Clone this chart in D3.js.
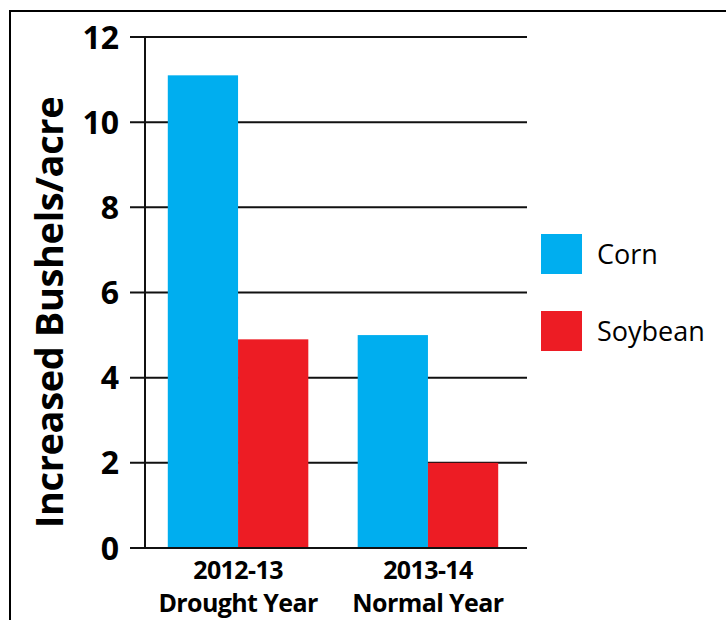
<!DOCTYPE html>
<html>
<head>
<meta charset="utf-8">
<script src="https://cdn.jsdelivr.net/npm/d3@7"></script>
<style>
  body { margin: 0; background: #fff; }
  svg { display: block; }
  text { font-family: "Open Sans", "DejaVu Sans", sans-serif; }
</style>
</head>
<body>
<svg id="chart" width="726" height="620"></svg>
<script>
// chart data
const years = ["2012-13", "2013-14"];
const yearNotes = ["Drought Year", "Normal Year"];
const seriesNames = ["Corn", "Soybean"];
const cornValues = [11.1, 5.0];
const soybeanValues = [4.9, 2.0];
const yTicks = [0, 2, 4, 6, 8, 10, 12];
const colors = ["#00aeef", "#ed1c24"];

const svg = d3.select("#chart");

// outer frame (runs off the right and bottom edge)
svg.append("rect")
  .attr("x", 10).attr("y", 11)
  .attr("width", 760).attr("height", 660)
  .attr("fill", "none")
  .attr("stroke", "#000")
  .attr("stroke-width", 2);

const plotLeft = 145, plotRight = 527, plotTop = 37, plotBottom = 548;

const x = d3.scaleBand()
  .domain(years)
  .range([plotLeft, 521])
  .paddingInner(0.26)
  .paddingOuter(0.12);

const xSeries = d3.scaleBand()
  .domain(seriesNames)
  .range([0, x.bandwidth()]);

const y = d3.scaleLinear()
  .domain([0, 12])
  .range([plotBottom, plotTop]);

// gridlines + ticks
const grid = svg.append("g");
grid.selectAll("line")
  .data(yTicks)
  .join("line")
  .attr("x1", 130).attr("x2", plotRight)
  .attr("y1", (d) => y(d)).attr("y2", (d) => y(d))
  .attr("stroke", "#111")
  .attr("stroke-width", 2);

grid.selectAll("text")
  .data(yTicks)
  .join("text")
  .attr("x", 119)
  .attr("y", (d) => y(d))
  .attr("dy", "0.36em")
  .attr("text-anchor", "end")
  .attr("font-size", 32)
  .attr("font-weight", "bold")
  .text((d) => d);

// bars
const rows = years.map((yr, i) => ({ year: yr, values: [cornValues[i], soybeanValues[i]] }));
svg.append("g")
  .selectAll("g")
  .data(rows)
  .join("g")
  .attr("transform", (d) => `translate(${x(d.year)},0)`)
  .selectAll("rect")
  .data((d) => d.values.map((v, j) => ({ name: seriesNames[j], value: v, color: colors[j] })))
  .join("rect")
  .attr("x", (d) => xSeries(d.name))
  .attr("width", xSeries.bandwidth())
  .attr("y", (d) => y(d.value))
  .attr("height", (d) => y(0) - y(d.value))
  .attr("fill", (d) => d.color);

// y axis line
svg.append("line")
  .attr("x1", plotLeft).attr("x2", plotLeft)
  .attr("y1", plotTop).attr("y2", plotBottom)
  .attr("stroke", "#111")
  .attr("stroke-width", 2);

// redraw baseline over bars
svg.append("line")
  .attr("x1", 130).attr("x2", plotRight)
  .attr("y1", y(0)).attr("y2", y(0))
  .attr("stroke", "#111")
  .attr("stroke-width", 2);

// x labels
const xl = svg.append("g")
  .selectAll("text")
  .data(years)
  .join("text")
  .attr("text-anchor", "middle")
  .attr("font-weight", "bold")
  .attr("font-size", 25)
  .attr("letter-spacing", "-0.6");
xl.append("tspan")
  .attr("x", (d) => x(d) + x.bandwidth() / 2)
  .attr("y", 579)
  .text((d) => d);
xl.append("tspan")
  .attr("x", (d) => x(d) + x.bandwidth() / 2)
  .attr("y", 612)
  .text((d, i) => yearNotes[i]);

// y title
svg.append("text")
  .attr("transform", `translate(63,${(95 + 530) / 2}) rotate(-90)`)
  .attr("text-anchor", "middle")
  .attr("font-size", 38)
  .attr("font-weight", "bold")
  .attr("letter-spacing", "-0.4")
  .text("Increased Bushels/acre");

// legend
const legend = svg.append("g")
  .selectAll("g")
  .data(seriesNames)
  .join("g")
  .attr("transform", (d, i) => `translate(541,${234 + i * 77})`);
legend.append("rect")
  .attr("width", 41).attr("height", 40)
  .attr("fill", (d, i) => colors[i]);
legend.append("text")
  .attr("x", 56).attr("y", 20)
  .attr("dy", "0.36em")
  .attr("font-size", 27)
  .text((d) => d);
</script>
</body>
</html>
